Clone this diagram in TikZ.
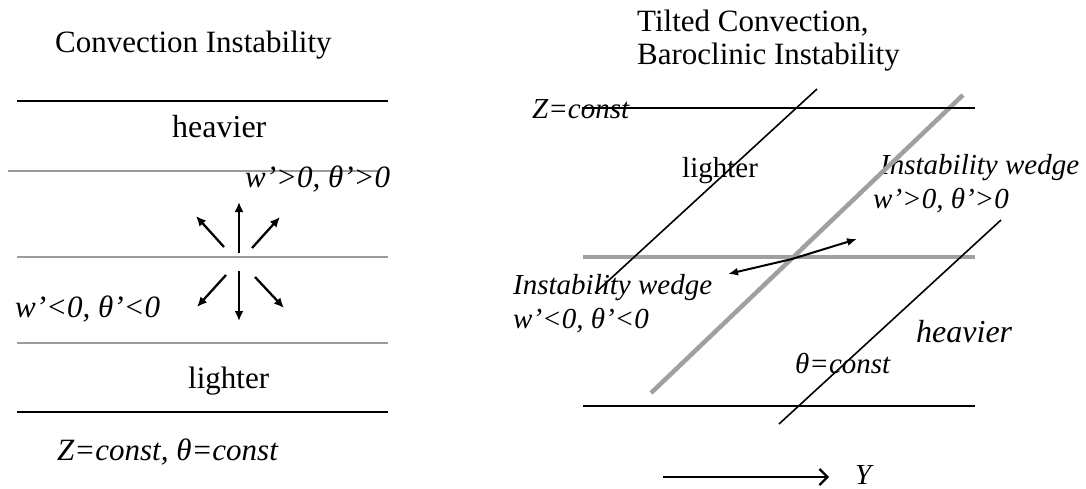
\documentclass[tikz,border=0pt]{standalone}
\usepackage{fontspec}
\setmainfont{Liberation Serif}
\usetikzlibrary{arrows.meta}
\begin{document}
\begin{tikzpicture}[x=1pt,y=-1pt,
  txt/.style={inner sep=0pt, anchor=base west, font=\fontsize{31}{36}\selectfont},
  txtr/.style={inner sep=0pt, anchor=base west, font=\fontsize{29}{34}\selectfont\itshape},
  itl/.style={txt, font=\fontsize{31}{36}\selectfont\itshape},
  blk/.style={line width=2.3pt, black},
  thin/.style={line width=1.6pt, black},
  gry/.style={line width=2.3pt, color={rgb,255:red,155;green,155;blue,155}},
  gryk/.style={line width=4.5pt, color={rgb,255:red,160;green,160;blue,160}},
  arr/.style={-{Latex[length=10pt,width=9pt]}, line width=2.3pt},
  arrs/.style={-{Latex[length=10pt,width=8pt]}, line width=2pt}]
\useasboundingbox (0,0) rectangle (1086,489);

% ---------- left panel ----------
\node[txt] (t1) at (55,53) {Convection Instability};
\coordinate (l1a) at (17,101);  \coordinate (l1b) at (388,101);
\coordinate (l2a) at (8,171);   \coordinate (l2b) at (378,171);
\coordinate (l3a) at (17,257);  \coordinate (l3b) at (388,257);
\coordinate (l4a) at (17,343);  \coordinate (l4b) at (388,343);
\coordinate (l5a) at (17,412);  \coordinate (l5b) at (388,412);
\draw[blk] (l1a) -- (l1b);
\draw[gry] (l2a) -- (l2b);
\draw[gry] (l3a) -- (l3b);
\draw[gry] (l4a) -- (l4b);
\draw[blk] (l5a) -- (l5b);
\node[txt, font=\fontsize{32}{36}\selectfont] (hv) at (172,138) {heavier};
\node[itl] (wp) at (245,187) {w’>0, θ’>0};
\node[itl] (wn) at (15,317) {w’<0, θ’<0};
\node[txt] (lt) at (188,388) {lighter};
\node[itl] (zc) at (57,460) {Z=const, θ=const};

\coordinate (u0) at (239,253); \coordinate (u1) at (239,202);
\coordinate (ul0) at (224,247); \coordinate (ul1) at (196,216);
\coordinate (ur0) at (252,248); \coordinate (ur1) at (280,217);
\coordinate (d0) at (239,271); \coordinate (d1) at (239,321);
\coordinate (dl0) at (226,275); \coordinate (dl1) at (197,307);
\coordinate (dr0) at (255,277); \coordinate (dr1) at (284,308);
\draw[arr] (u0) -- (u1);
\draw[arr] (ul0) -- (ul1);
\draw[arr] (ur0) -- (ur1);
\draw[arr] (d0) -- (d1);
\draw[arr] (dl0) -- (dl1);
\draw[arr] (dr0) -- (dr1);

% ---------- right panel ----------
\node[txt] (t2) at (637,32) {Tilted Convection,};
\node[txt] (t3) at (637,65) {Baroclinic Instability};
\node[txtr] (zr) at (532,119) {Z=const};
\node[txtr, font=\fontsize{29}{34}\selectfont\upshape] (lr) at (682,178) {lighter};
\node[txtr] (iw1) at (880,175) {Instability wedge};
\node[txtr] (wp2) at (873,208) {w’>0, θ’>0};
\node[txtr] (iw2) at (513,294) {Instability wedge};
\node[txtr] (wn2) at (513,328) {w’<0, θ’<0};
\node[txtr, font=\fontsize{32}{36}\selectfont\itshape] (hr) at (916,342) {heavier};
\node[txtr] (tc) at (795,373) {θ=const};
\node[txtr] (yy) at (855,484) {Y};

\coordinate (r1a) at (582,108); \coordinate (r1b) at (975,108);
\coordinate (r2a) at (583,257); \coordinate (r2b) at (975,257);
\coordinate (r3a) at (583,406); \coordinate (r3b) at (975,406);
\coordinate (ga) at (963,95);   \coordinate (gb) at (651,393);
\coordinate (d1a) at (817,89);  \coordinate (d1b) at (595,293);
\coordinate (d2a) at (1001,220); \coordinate (d2b) at (779,424);
\draw[gryk] (r2a) -- (r2b);
\draw[gryk] (ga) -- (gb);
\draw[blk] (r1a) -- (r1b);
\draw[blk] (r3a) -- (r3b);
\draw[thin] (d1a) -- (d1b);
\draw[thin] (d2a) -- (d2b);

\coordinate (c0) at (792,259);
\coordinate (cu) at (857,239);
\coordinate (cd) at (728,274);
\draw[arrs] (c0) -- (cu);
\draw[arrs] (c0) -- (cd);

\coordinate (ya) at (663,477); \coordinate (yb) at (829,477);
\draw[line width=2.3pt, -{Straight Barb[length=8pt,width=16pt,line width=2.3pt]}] (ya) -- (yb);
\end{tikzpicture}
\end{document}
